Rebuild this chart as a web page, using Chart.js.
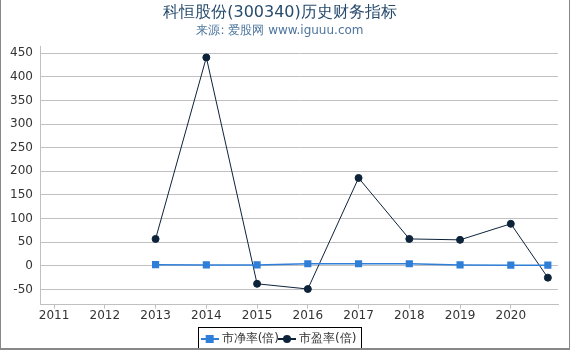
<!DOCTYPE html>
<html>
<head>
<meta charset="utf-8">
<script src="https://cdn.jsdelivr.net/npm/chart.js@4.4.0/dist/chart.umd.min.js"></script>
<style>
  html, body { margin: 0; padding: 0; background: #fff; }
  #wrap { width: 568px; height: 348px; border-left: 1px solid #888; border-right: 2px solid #888; border-bottom: 2px solid #888; box-sizing: content-box; }
  canvas { display: block; }
</style>
</head>
<body>
<div id="wrap"><canvas id="chart" width="568" height="348"></canvas></div>
<script>
// ===== DATA =====
const years = [2013, 2014, 2015, 2016, 2017, 2018, 2019, 2020, 2020.73];
const pbValues = [2.5, 2, 2, 4.5, 4.5, 4.5, 2, 1.5, 1.5];
const peValues = [57, 441, -38, -49, 186, 57, 55, 89, -25];
const xTickLabels = [2011, 2012, 2013, 2014, 2015, 2016, 2017, 2018, 2019, 2020];
const yTickLabels = [-50, 0, 50, 100, 150, 200, 250, 300, 350, 400, 450];

const pbColor = '#2f7ed8';
const peColor = '#0d233a';
const font = "'DejaVu Sans', sans-serif";

// legend icons: short line with marker
function legendIcon(color, shape) {
  const c = document.createElement('canvas');
  c.width = 18; c.height = 10;
  const g = c.getContext('2d');
  g.strokeStyle = color; g.lineWidth = 2;
  g.beginPath(); g.moveTo(0, 5); g.lineTo(18, 5); g.stroke();
  g.fillStyle = color;
  if (shape === 'square') g.fillRect(5, 1, 8, 8);
  else { g.beginPath(); g.arc(9, 5, 4, 0, Math.PI * 2); g.fill(); }
  return c;
}

const legendBorder = {
  id: 'legendBorder',
  afterDraw(chart) {
    const l = chart.legend;
    const ctx = chart.ctx;
    ctx.save();
    ctx.strokeStyle = '#000';
    ctx.lineWidth = 1;
    const items = l.legendHitBoxes;
    const x0 = items[0].left - 6;
    const last = items[items.length - 1];
    const x1 = last.left + last.width + 4;
    ctx.strokeRect(Math.round(x0) + 0.5, 327.5, Math.round(x1 - x0), 21);
    ctx.restore();
  }
};

new Chart(document.getElementById('chart').getContext('2d'), {
  type: 'line',
  data: {
    datasets: [{
      label: '市净率(倍)',
      data: years.map((x, i) => ({ x: x, y: pbValues[i] })),
      borderColor: pbColor,
      backgroundColor: pbColor,
      borderWidth: 1.5,
      pointStyle: 'rect',
      pointRadius: 4,
      pointHoverRadius: 4,
      tension: 0
    }, {
      label: '市盈率(倍)',
      data: years.map((x, i) => ({ x: x, y: peValues[i] })),
      borderColor: peColor,
      backgroundColor: peColor,
      borderWidth: 1,
      pointStyle: 'circle',
      pointRadius: 3.5,
      pointHoverRadius: 3.5,
      tension: 0
    }]
  },
  options: {
    responsive: false,
    animation: false,
    layout: { padding: { left: 1, right: 11, top: 0, bottom: -7 } },
    plugins: {
      title: {
        display: true,
        text: '科恒股份(300340)历史财务指标',
        color: '#274b6d',
        font: { family: font, size: 16, weight: 'normal' },
        padding: { top: 3.5, bottom: 0 }
      },
      subtitle: {
        display: true,
        text: '来源: 爱股网 www.iguuu.com',
        color: '#4d759e',
        font: { family: font, size: 12 },
        padding: { top: 1, bottom: 8 }
      },
      legend: {
        position: 'bottom',
        labels: {
          font: { family: font, size: 12 },
          color: '#333',
          usePointStyle: true,
          boxWidth: 18,
          boxHeight: 10,
          padding: 2,
          generateLabels: function(chart) {
            return chart.data.datasets.map((ds, i) => ({
              text: ds.label,
              fontColor: '#333',
              pointStyle: legendIcon(ds.borderColor, i === 0 ? 'square' : 'circle'),
              datasetIndex: i,
              hidden: false,
              lineWidth: 0
            }));
          }
        }
      },
      tooltip: { enabled: false }
    },
    scales: {
      x: {
        type: 'linear',
        min: 2010.74,
        max: 2020.93,
        afterBuildTicks: function(axis) {
          axis.ticks = xTickLabels.map(v => ({ value: v }));
        },
        afterFit: function(axis) {
          axis.height += 8;
        },
        ticks: {
          font: { family: font, size: 12 },
          color: '#333',
          maxRotation: 0,
          autoSkip: false,
          padding: 0,
          callback: v => String(v)
        },
        grid: { drawOnChartArea: false, color: '#c0c0c0', tickLength: 4 },
        border: { color: '#c0c0c0' }
      },
      y: {
        min: -82,
        max: 465,
        afterBuildTicks: function(axis) {
          axis.ticks = yTickLabels.map(v => ({ value: v }));
        },
        ticks: {
          font: { family: font, size: 12 },
          color: '#333',
          padding: 8
        },
        grid: { color: '#c0c0c0', tickLength: 0 },
        border: { color: '#c0c0c0' }
      }
    }
  },
  plugins: [legendBorder]
});
</script>
</body>
</html>
